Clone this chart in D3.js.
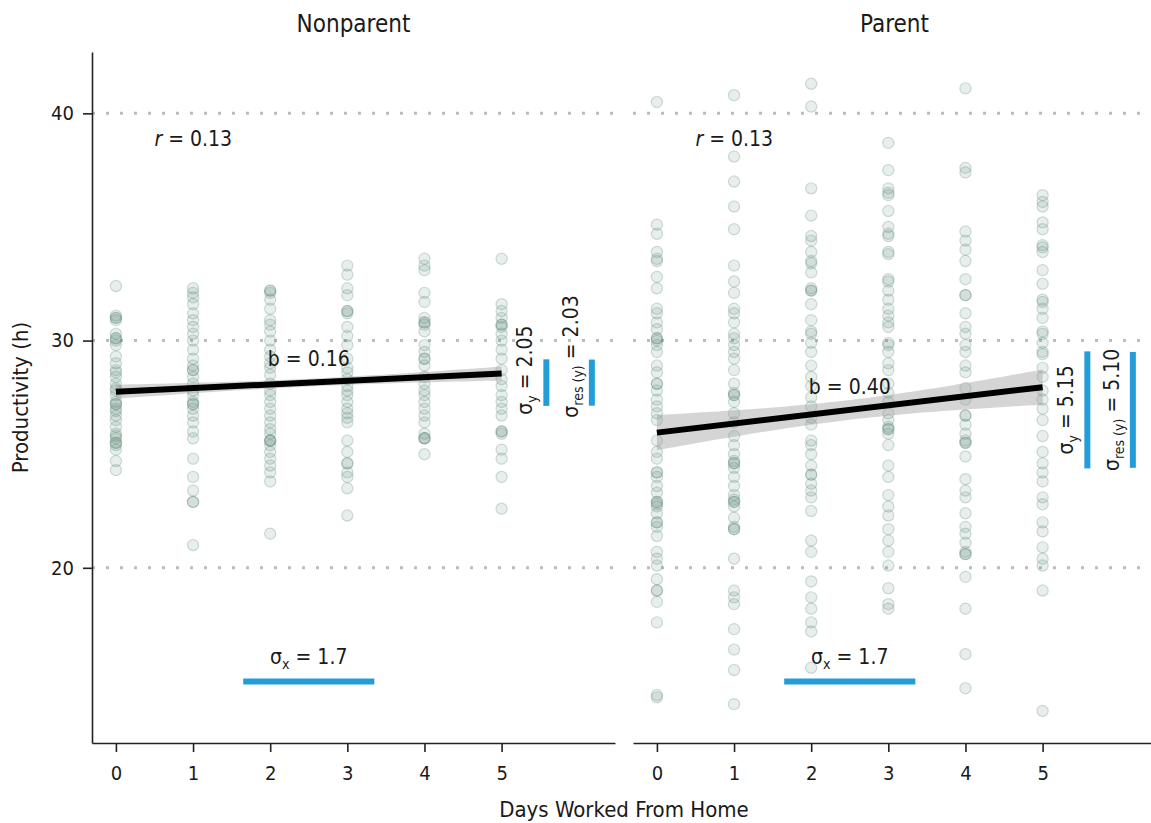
<!DOCTYPE html>
<html>
<head>
<meta charset="utf-8">
<script src="https://cdn.jsdelivr.net/npm/d3@7"></script>
<style>
  body { margin: 0; background: #ffffff; }
  text { font-family: "Liberation Sans Narrow", "Arial Narrow", "DejaVu Sans Condensed", sans-serif; fill: #1a1a1a; }
</style>
</head>
<body>
<svg id="chart" width="1151" height="823"></svg>
<script>
// Days worked from home (x) and weekly productive hours (y), by parental status.
const days = [0, 1, 2, 3, 4, 5];
const panels = ["Nonparent", "Parent"];
const yTicks = [20, 30, 40];

// Productive hours, one list per number of days worked from home.
const nonparentHours = [
  [32.4, 31.1, 31.0, 31.0, 30.9, 30.3, 30.1, 30.1, 30.0, 29.8, 29.3, 29.0, 28.7, 28.6, 28.4, 28.1, 27.9, 27.8, 27.6, 27.3, 27.2, 27.2, 27.0, 26.9, 26.7, 26.5, 26.2, 25.9, 25.8, 25.7, 25.5, 25.5, 25.4, 25.2, 24.7, 24.3],
  [32.3, 32.1, 31.9, 31.6, 31.2, 30.9, 30.6, 30.3, 30.0, 29.6, 29.2, 28.9, 28.7, 28.7, 28.4, 28.1, 27.8, 27.6, 27.3, 27.2, 27.2, 27.0, 26.7, 26.4, 26.0, 25.7, 24.8, 24.0, 23.4, 22.9, 22.9, 21.0],
  [32.2, 32.2, 32.1, 31.8, 31.4, 30.9, 30.7, 30.4, 30.0, 29.6, 29.3, 29.0, 28.8, 28.5, 28.1, 27.8, 27.6, 27.3, 27.0, 26.7, 26.4, 26.1, 25.9, 25.6, 25.6, 25.6, 25.4, 25.1, 24.8, 24.5, 24.2, 23.8, 21.5],
  [33.3, 32.9, 32.3, 32.0, 31.3, 31.3, 31.2, 30.6, 30.2, 29.8, 29.2, 28.8, 28.6, 28.3, 28.0, 27.8, 27.6, 27.3, 27.0, 26.8, 26.6, 26.4, 25.6, 25.1, 24.6, 24.6, 24.2, 24.0, 23.5, 22.3],
  [33.6, 33.3, 33.1, 32.1, 31.7, 31.0, 30.8, 30.8, 30.7, 30.4, 29.8, 29.5, 29.2, 29.2, 28.9, 28.4, 28.1, 27.8, 27.6, 27.3, 27.0, 26.7, 26.4, 25.9, 25.7, 25.7, 25.7, 25.0],
  [33.6, 31.6, 31.3, 31.0, 30.7, 30.7, 30.6, 30.3, 30.0, 29.6, 29.2, 28.7, 28.3, 28.0, 27.6, 27.3, 27.0, 26.7, 26.0, 26.0, 25.9, 25.2, 24.8, 24.0, 22.6]
];
const parentHours = [
  [40.5, 35.1, 34.7, 33.9, 33.6, 33.5, 32.8, 32.3, 31.4, 31.2, 30.8, 30.5, 30.1, 30.1, 30.0, 29.8, 29.5, 28.9, 28.6, 28.1, 28.1, 27.8, 27.4, 27.1, 26.8, 26.5, 25.6, 25.1, 24.8, 24.2, 24.2, 24.0, 23.6, 23.3, 22.9, 22.9, 22.8, 22.7, 22.4, 22.0, 22.0, 21.8, 21.4, 20.7, 20.4, 20.1, 19.5, 19.0, 19.0, 18.5, 17.6, 14.4, 14.3],
  [40.8, 38.1, 37.0, 35.9, 34.9, 33.3, 32.6, 32.1, 31.4, 31.2, 30.8, 30.3, 30.1, 29.8, 29.5, 29.2, 28.7, 28.1, 27.7, 27.6, 27.6, 27.3, 26.8, 26.4, 25.8, 25.4, 25.0, 24.7, 24.6, 24.6, 24.4, 24.0, 23.6, 23.2, 23.0, 22.9, 22.9, 22.7, 22.2, 21.8, 21.7, 21.7, 20.4, 19.0, 18.7, 18.4, 17.3, 16.4, 15.5, 14.0],
  [41.3, 40.3, 36.7, 35.5, 34.6, 34.4, 33.9, 33.5, 33.4, 33.0, 32.3, 32.2, 32.2, 31.6, 30.9, 30.4, 30.3, 29.9, 29.5, 28.9, 28.4, 28.0, 27.5, 27.1, 26.6, 26.3, 25.6, 25.4, 25.0, 24.5, 24.1, 24.1, 23.7, 23.4, 23.1, 22.5, 21.2, 20.7, 19.4, 18.7, 18.2, 17.6, 17.2, 15.6],
  [38.7, 37.5, 36.7, 36.5, 36.4, 35.7, 35.0, 34.7, 34.6, 33.9, 33.8, 32.7, 32.6, 32.2, 31.8, 31.4, 31.1, 30.8, 30.6, 29.9, 29.8, 29.5, 29.0, 28.7, 28.1, 27.7, 27.3, 26.8, 26.5, 26.2, 26.1, 26.1, 25.9, 25.4, 24.5, 24.0, 23.2, 22.7, 22.3, 21.7, 21.2, 20.7, 20.1, 19.1, 18.4, 18.2],
  [41.1, 37.6, 37.4, 34.8, 34.4, 34.0, 33.5, 32.7, 32.0, 32.0, 31.2, 30.6, 30.3, 29.8, 29.5, 28.9, 28.6, 27.9, 27.4, 26.7, 26.7, 26.3, 25.9, 25.6, 25.5, 25.5, 24.9, 23.9, 23.4, 23.1, 22.4, 21.8, 21.5, 21.1, 20.7, 20.6, 20.6, 19.6, 18.2, 16.2, 14.7],
  [36.4, 36.1, 35.9, 35.2, 34.9, 34.2, 34.1, 33.9, 33.1, 32.5, 31.8, 31.7, 31.4, 31.0, 30.4, 30.3, 29.9, 29.5, 29.4, 28.8, 28.4, 27.8, 27.4, 27.0, 26.5, 25.8, 25.1, 24.6, 24.2, 23.8, 23.1, 22.8, 22.0, 21.6, 20.9, 20.4, 20.1, 19.0, 13.7]
];

// Fitted models and summary statistics per panel.
const intercepts = [27.75, 25.95];
const slopes = [0.16, 0.40];
const correlations = [0.13, 0.13];
const sigmaX = [1.7, 1.7];
const sigmaY = [2.05, 5.15];
const sigmaRes = [2.03, 5.10];
const meanDays = [2.5, 2.5];
const sampleSizes = [530, 530];

const hoursByPanel = [nonparentHours, parentHours];

// ---- layout ----
const panelLeft = [92, 633];
const panelWidth = 523;
const plotTop = 52;
const plotHeight = 691;
const accent = "#229dd8";
const pointColor = "#5f8a76";

const svg = d3.select("#chart");

const x = d3.scaleLinear().domain([-0.31, 6.47]).range([0, panelWidth]);
const y = d3.scaleLinear().domain([12.29, 42.7]).range([plotHeight, 0]);

// Vertical placement of the rotated sigma labels (centre, in hours) per panel.
const sigmaLabelCentre = [[28.7, 29.3], [26.95, 26.95]];
const sigmaBarDays = [5.58, 6.17];

panels.forEach((name, p) => {
  const g = svg.append("g").attr("transform", `translate(${panelLeft[p]},${plotTop})`);

  // dotted reference lines
  g.selectAll("line.grid").data(yTicks).join("line")
    .attr("class", "grid")
    .attr("x1", 0).attr("x2", panelWidth)
    .attr("y1", d => y(d)).attr("y2", d => y(d))
    .attr("stroke", "#bcbcbc").attr("stroke-width", 3)
    .attr("stroke-dasharray", "3,11");

  // panel title
  g.append("text")
    .attr("x", panelWidth / 2).attr("y", -20)
    .attr("text-anchor", "middle")
    .style("font-size", "24px")
    .text(name);

  // x axis
  const xAxis = g.append("g").attr("transform", `translate(0,${plotHeight})`)
    .call(d3.axisBottom(x).tickValues(days).tickFormat(d3.format("d"))
      .tickSize(9).tickSizeOuter(0).tickPadding(14));
  xAxis.select(".domain").attr("stroke", "#222").attr("stroke-width", 1.6);
  xAxis.selectAll(".tick line").attr("stroke", "#222").attr("stroke-width", 1.6);
  xAxis.selectAll(".tick text").style("font-size", "20px").attr("fill", "#1a1a1a");

  // y axis on the first panel only
  if (p === 0) {
    const yAxis = g.append("g")
      .call(d3.axisLeft(y).tickValues(yTicks).tickFormat(d3.format("d"))
        .tickSize(9).tickSizeOuter(0).tickPadding(9));
    yAxis.select(".domain").attr("stroke", "#222").attr("stroke-width", 1.6);
    yAxis.selectAll(".tick line").attr("stroke", "#222").attr("stroke-width", 1.6);
    yAxis.selectAll(".tick text").style("font-size", "20px").attr("fill", "#1a1a1a");
  }

  // points
  const pts = [];
  hoursByPanel[p].forEach((list, i) => list.forEach(h => pts.push({ day: days[i], hours: h })));
  g.append("g").selectAll("circle").data(pts).join("circle")
    .attr("cx", d => x(d.day)).attr("cy", d => y(d.hours)).attr("r", 5.6)
    .attr("fill", pointColor).attr("fill-opacity", 0.15)
    .attr("stroke", pointColor).attr("stroke-opacity", 0.28).attr("stroke-width", 1.2);

  // regression confidence band
  const n = sampleSizes[p];
  const fit = d => intercepts[p] + slopes[p] * d;
  const half = d => 1.96 * sigmaRes[p] * Math.sqrt(1 / n + (d - meanDays[p]) ** 2 / ((n - 1) * sigmaX[p] ** 2));
  const grid = d3.range(0, 5.0001, 0.1);
  g.append("path").datum(grid)
    .attr("d", d3.area().x(d => x(d)).y0(d => y(fit(d) - half(d))).y1(d => y(fit(d) + half(d))))
    .attr("fill", "#9a9a9a").attr("fill-opacity", 0.42);

  // regression line
  g.append("line")
    .attr("x1", x(0)).attr("x2", x(5))
    .attr("y1", y(fit(0))).attr("y2", y(fit(5)))
    .attr("stroke", "#000").attr("stroke-width", 6);

  // correlation
  const rText = g.append("text").attr("x", x(0.5)).attr("y", y(38.55)).style("font-size", "21px");
  rText.append("tspan").style("font-style", "italic").text("r");
  rText.append("tspan").text(` = ${correlations[p].toFixed(2)}`);

  // slope label
  g.append("text")
    .attr("x", x(meanDays[p])).attr("y", y(fit(meanDays[p]) + 0.72))
    .attr("text-anchor", "middle").style("font-size", "21px")
    .text(`b = ${slopes[p].toFixed(2)}`);

  // sigma x bar and label
  const barY = 15;
  g.append("line")
    .attr("x1", x(meanDays[p] - sigmaX[p] / 2)).attr("x2", x(meanDays[p] + sigmaX[p] / 2))
    .attr("y1", y(barY)).attr("y2", y(barY))
    .attr("stroke", accent).attr("stroke-width", 6);
  const sx = g.append("text").attr("x", x(meanDays[p])).attr("y", y(15.77))
    .attr("text-anchor", "middle").style("font-size", "21px");
  sx.append("tspan").text("σ");
  sx.append("tspan").attr("dy", 5).style("font-size", "14px").text("x");
  sx.append("tspan").attr("dy", -5).text(` = ${sigmaX[p].toFixed(1)}`);

  // sigma y and residual sigma bars with rotated labels
  const centre = fit(meanDays[p]);
  const sigmas = [sigmaY[p], sigmaRes[p]];
  const subs = ["y", "res (y)"];
  sigmas.forEach((s, k) => {
    const bx = x(sigmaBarDays[k]);
    g.append("line")
      .attr("x1", bx).attr("x2", bx)
      .attr("y1", y(centre - s / 2)).attr("y2", y(centre + s / 2))
      .attr("stroke", accent).attr("stroke-width", 6);
    const t = g.append("text")
      .attr("transform", `translate(${bx - 14},${y(sigmaLabelCentre[p][k])}) rotate(-90)`)
      .attr("text-anchor", "middle").style("font-size", "21px");
    t.append("tspan").text("σ");
    t.append("tspan").attr("dy", 5).style("font-size", "14px").text(subs[k]);
    t.append("tspan").attr("dy", -5).text(` = ${s.toFixed(2)}`);
  });
});

// shared axis titles
svg.append("text")
  .attr("x", (panelLeft[0] + panelLeft[1] + panelWidth) / 2).attr("y", 817)
  .attr("text-anchor", "middle").style("font-size", "22px")
  .text("Days Worked From Home");

svg.append("text")
  .attr("transform", `translate(28,${plotTop + plotHeight / 2}) rotate(-90)`)
  .attr("text-anchor", "middle").style("font-size", "22px")
  .text("Productivity (h)");
</script>
</body>
</html>
